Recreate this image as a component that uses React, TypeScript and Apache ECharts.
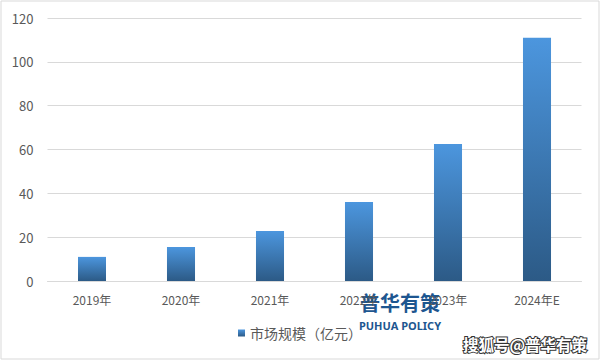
import React, { useEffect, useRef } from "react";
import * as echarts from "echarts";

const categories = ["2019年", "2020年", "2021年", "2022年", "2023年", "2024年E"];
const marketSize = [11, 15.5, 22.8, 36, 62.5, 111];
const seriesName = "市场规模（亿元）";

export default function App() {
  const ref = useRef<HTMLDivElement>(null);
  useEffect(() => {
    if (!ref.current) return;
    const chart = echarts.init(ref.current, null, { renderer: "svg" });
    const grad = new echarts.graphic.LinearGradient(0, 0, 0, 1, [
      { offset: 0, color: "#4c96de" },
      { offset: 1, color: "#2c5a86" },
    ]);
    chart.setOption({
      animation: false,
      backgroundColor: "#ffffff",
      textStyle: { fontFamily: "'Noto Sans CJK SC', 'Noto Sans', sans-serif" },
      grid: { left: 47.5, right: 19.5, top: 18, bottom: 80 },
      legend: {
        bottom: 16,
        left: 233,
        itemWidth: 7,
        itemHeight: 7,
        itemGap: 6,
        icon: "rect",
        textStyle: { color: "#595959", fontSize: 14 },
        data: [seriesName],
      },
      xAxis: {
        type: "category",
        data: categories,
        axisLine: { lineStyle: { color: "#d9d9d9" } },
        axisTick: { show: false },
        axisLabel: { color: "#595959", fontSize: 12, margin: 12 },
      },
      yAxis: {
        type: "value",
        min: 0,
        max: 120,
        interval: 20,
        axisLine: { show: false },
        axisTick: { show: false },
        axisLabel: { color: "#595959", fontSize: 13, margin: 14 },
        splitLine: { lineStyle: { color: "#d9d9d9" } },
      },
      series: [
        {
          name: seriesName,
          type: "bar",
          data: marketSize,
          barWidth: "31.5%",
          itemStyle: { color: grad },
        },
      ],
      graphic: [
        {
          type: "rect",
          shape: { x: 1, y: 1, width: 598, height: 358 },
          style: { fill: "none", stroke: "#d9d9d9", lineWidth: 1 },
          silent: true,
        },
        {
          type: "text",
          x: 400,
          y: 302,
          style: {
            text: "普华有策",
            fill: "#1d5690",
            font: "bold 20px 'Noto Sans CJK SC'",
            align: "center",
            verticalAlign: "middle",
          },
        },
        {
          type: "text",
          x: 400,
          y: 325.5,
          style: {
            text: "PUHUA POLICY",
            fill: "#1d5690",
            font: "bold 11px 'Noto Sans', sans-serif",
            align: "center",
            verticalAlign: "middle",
          },
        },
        {
          type: "text",
          x: 525,
          y: 344,
          style: {
            text: "搜狐号@普华有策",
            fill: "#ffffff",
            stroke: "#333333",
            lineWidth: 2,
            font: "bold 15.5px 'Noto Sans CJK SC'",
            align: "center",
            verticalAlign: "middle",
          },
        },
      ],
    });
    return () => chart.dispose();
  }, []);
  return (
    <div
      ref={ref}
      style={{ position: "fixed", left: 0, top: 0, width: 601, height: 361 }}
    />
  );
}
